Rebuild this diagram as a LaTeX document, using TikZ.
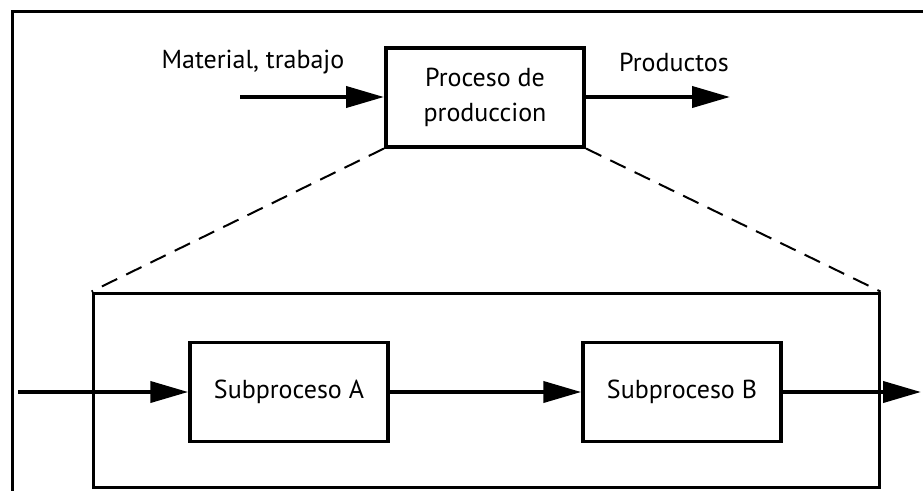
\documentclass[tikz,border=0pt]{standalone}
\usepackage{fontspec}
\setmainfont{PT Sans}
\usetikzlibrary{arrows.meta,positioning}

\tikzset{
  procbox/.style={draw, line width=4pt, align=center, inner sep=0pt,
    minimum width=198pt, minimum height=99pt},
  flow/.style={line width=4pt, -{Triangle[length=38pt,width=21pt]}},
  zoomline/.style={line width=2pt, dash pattern=on 17pt off 10pt},
  label/.style={inner sep=0pt}
}

\begin{document}
\begin{tikzpicture}[x=1pt, y=-1pt, every node/.style={font=\fontsize{26}{35}\selectfont}]
  \useasboundingbox (0,0) rectangle (923,490);
  \clip (0,0) rectangle (923,490);

  % Draw the frame
  \draw[line width=3pt] (12,11) rectangle (960,530);

  % Draw the main process
  \node[procbox] (proc) at (485,97) {Proceso de\\produccion};
  \coordinate (matin) at (240,97);
  \coordinate (prodout) at (730,97);
  \draw[flow] (matin) -- (proc.west);
  \draw[flow] (proc.east) -- (prodout);
  \node[label] (lblmat) at (253,62) {Material, trabajo};
  \node[label] (lblprod) at (674,62) {Productos};

  % Draw the detail box
  \node[draw, line width=3pt, minimum width=786pt, minimum height=194pt] (detail) at (486,390) {};
  \draw[zoomline] (proc.south west) -- (detail.north west);
  \draw[zoomline] (proc.south east) -- (detail.north east);

  % Draw the subprocesses
  \node[procbox, line width=3.5pt] (subA) at (289,392) {Subproceso A};
  \node[procbox, line width=3.5pt] (subB) at (682,392) {Subproceso B};
  \coordinate (linein) at (18,392);
  \coordinate (lineout) at (921,392);
  \draw[flow] (linein) -- (subA.west);
  \draw[flow] (subA.east) -- (subB.west);
  \draw[flow] (subB.east) -- (lineout);
\end{tikzpicture}
\end{document}
